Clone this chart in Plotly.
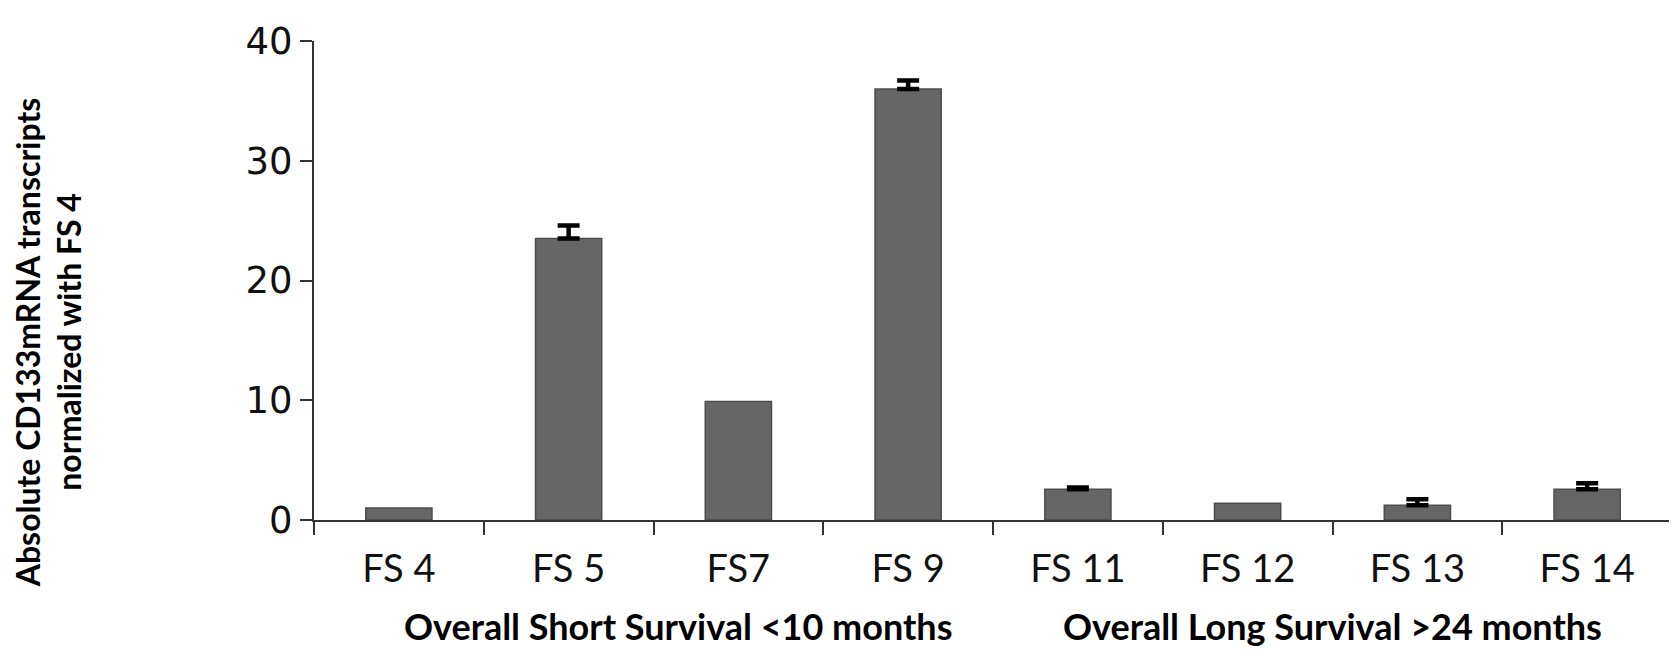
import plotly.graph_objects as go

categories = ["FS 4", "FS 5", "FS7", "FS 9", "FS 11", "FS 12", "FS 13", "FS 14"]
values = [1.0, 23.5, 9.9, 36.0, 2.56, 1.39, 1.23, 2.56]
errors_plus = [None, 1.1, None, 0.7, 0.15, None, 0.5, 0.5]
y_ticks = [0, 10, 20, 30, 40]
group_labels = ["Overall Short Survival <10 months", "Overall Long Survival >24 months"]
y_title_lines = ["Absolute CD133mRNA transcripts", "normalized with FS 4"]

err_x = [c for c, e in zip(categories, errors_plus) if e is not None]
err_y = [v for v, e in zip(values, errors_plus) if e is not None]
err_v = [e for e in errors_plus if e is not None]

fig = go.Figure()
fig.add_trace(go.Bar(
    x=categories,
    y=values,
    marker=dict(color="#666666", line=dict(color="#4d4d4d", width=1.5)),
))
fig.add_trace(go.Scatter(
    x=err_x, y=err_y, mode="markers",
    marker=dict(size=1, color="rgba(0,0,0,0)"),
    error_y=dict(type="data", symmetric=False, array=err_v,
                 arrayminus=[0] * len(err_v), color="#000000",
                 thickness=4.5, width=11, visible=True),
    hoverinfo="skip",
))

fig.update_layout(
    width=1677, height=659,
    margin=dict(l=306, r=13, t=23, b=147),
    plot_bgcolor="white", paper_bgcolor="white",
    bargap=0.61,
    showlegend=False,
    xaxis=dict(
        type="category", categoryorder="array", categoryarray=categories,
        showline=True, linecolor="#333333", linewidth=2,
        ticks="outside", tickson="boundaries", ticklen=13, tickwidth=2,
        tickcolor="#333333",
        tickfont=dict(family="Lato", size=38, color="#111111"),
        ticklabelstandoff=14,
        showgrid=False, zeroline=False,
    ),
    yaxis=dict(
        range=[0, 40], tickvals=y_ticks,
        showline=True, linecolor="#333333", linewidth=2,
        ticks="outside", ticklen=12, tickwidth=2, tickcolor="#333333",
        tickfont=dict(family="DejaVu Sans", size=37, color="#111111"),
        ticklabelstandoff=0,
        showgrid=False, zeroline=False,
    ),
)

bold = dict(family="Lato", size=36, color="#000000", weight="bold")
title_font = dict(family="Lato", size=32, color="#000000", weight="bold")
annotations = [
    dict(text=group_labels[0], x=0.268, y=-0.221, xref="paper", yref="paper",
         xanchor="center", yanchor="middle", showarrow=False, font=bold),
    dict(text=group_labels[1], x=0.75, y=-0.221, xref="paper", yref="paper",
         xanchor="center", yanchor="middle", showarrow=False, font=bold),
    dict(text="<br>".join(y_title_lines), x=-0.1955, y=0.37,
         xref="paper", yref="paper", align="center",
         xanchor="center", yanchor="middle", textangle=-90, showarrow=False,
         font=title_font),
]
fig.update_layout(annotations=annotations)

fig.write_html("out.html")
